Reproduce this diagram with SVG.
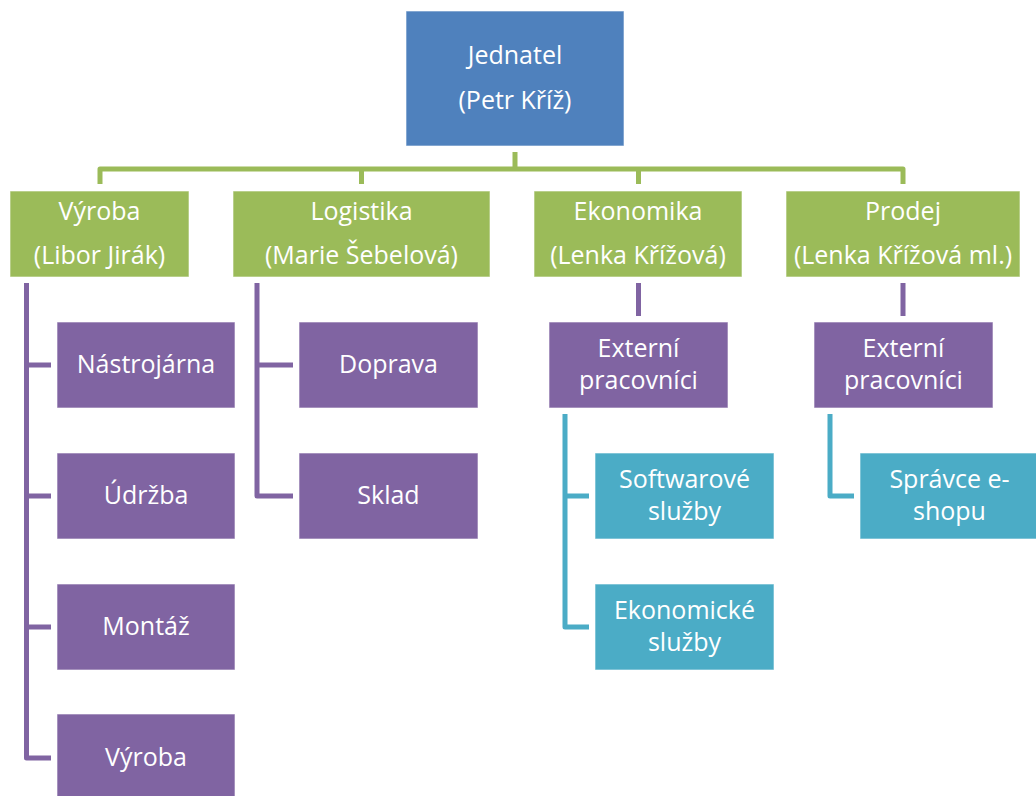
<svg xmlns="http://www.w3.org/2000/svg" width="1036" height="796" viewBox="0 0 1036 796">
  <style>
    .box { stroke: #ffffff; stroke-opacity: 0.6; stroke-width: 1; }
    .blue { fill: #4F81BD; }
    .green { fill: #9BBB59; }
    .purple { fill: #8064A2; }
    .teal { fill: #4BACC6; }
    .lbl { font-family: "Open Sans", "Noto Sans", sans-serif; font-size: 25px; fill: #ffffff; text-anchor: middle; }
    .wire { fill: none; stroke-width: 5; stroke-linejoin: round; }
    .w-green { stroke: #9BBB59; }
    .w-purple { stroke: #8064A2; }
    .w-teal { stroke: #4BACC6; }
  </style>
  <rect width="1036" height="796" fill="#ffffff"/>

  <!-- connectors -->
  <g id="connectors">
    <path class="wire w-green" d="M515,152 V169 M100,184 V169 H903 V184 M361.5,169 V184 M638.5,169 V184"/>
    <path class="wire w-purple" d="M26.5,283 V758 H51 M26.5,365 H51 M26.5,496 H51 M26.5,627 H51"/>
    <path class="wire w-purple" d="M257,283 V496 H293 M257,365 H293"/>
    <path class="wire w-purple" d="M638.5,283 V316 M903,283 V316"/>
    <path class="wire w-teal" d="M565,414 V627 H589 M565,496 H589"/>
    <path class="wire w-teal" d="M830,414 V496 H854"/>
  </g>

  <!-- top level -->
  <g id="jednatel">
    <rect class="box blue" x="406" y="11" width="218" height="135"/>
    <text class="lbl" x="515" y="64">Jednatel</text>
    <text class="lbl" x="515" y="109">(Petr Kříž)</text>
  </g>

  <!-- departments -->
  <g id="vyroba">
    <rect class="box green" x="10" y="191" width="179" height="86"/>
    <text class="lbl" x="99.5" y="220">Výroba</text>
    <text class="lbl" x="99.5" y="264">(Libor Jirák)</text>
  </g>
  <g id="logistika">
    <rect class="box green" x="233" y="191" width="257" height="86"/>
    <text class="lbl" x="361.5" y="220">Logistika</text>
    <text class="lbl" x="361.5" y="264">(Marie Šebelová)</text>
  </g>
  <g id="ekonomika">
    <rect class="box green" x="534" y="191" width="208" height="86"/>
    <text class="lbl" x="638" y="220">Ekonomika</text>
    <text class="lbl" x="638" y="264">(Lenka Křížová)</text>
  </g>
  <g id="prodej">
    <rect class="box green" x="786" y="191" width="234" height="86"/>
    <text class="lbl" x="903" y="220">Prodej</text>
    <text class="lbl" x="903" y="264">(Lenka Křížová ml.)</text>
  </g>

  <!-- Výroba units -->
  <g id="nastrojarna">
    <rect class="box purple" x="57" y="322" width="178" height="86"/>
    <text class="lbl" x="146" y="373">Nástrojárna</text>
  </g>
  <g id="udrzba">
    <rect class="box purple" x="57" y="453" width="178" height="86"/>
    <text class="lbl" x="146" y="504">Údržba</text>
  </g>
  <g id="montaz">
    <rect class="box purple" x="57" y="584" width="178" height="86"/>
    <text class="lbl" x="146" y="635">Montáž</text>
  </g>
  <g id="vyroba-unit">
    <rect class="box purple" x="57" y="714" width="178" height="86"/>
    <text class="lbl" x="146" y="766">Výroba</text>
  </g>

  <!-- Logistika units -->
  <g id="doprava">
    <rect class="box purple" x="299" y="322" width="179" height="86"/>
    <text class="lbl" x="388.5" y="373">Doprava</text>
  </g>
  <g id="sklad">
    <rect class="box purple" x="299" y="453" width="179" height="86"/>
    <text class="lbl" x="388.5" y="504">Sklad</text>
  </g>

  <!-- external staff -->
  <g id="externi-ekonomika">
    <rect class="box purple" x="549" y="322" width="179" height="86"/>
    <text class="lbl" x="638.5" y="357">Externí</text>
    <text class="lbl" x="638.5" y="389">pracovníci</text>
  </g>
  <g id="externi-prodej">
    <rect class="box purple" x="814" y="322" width="179" height="86"/>
    <text class="lbl" x="903.5" y="357">Externí</text>
    <text class="lbl" x="903.5" y="389">pracovníci</text>
  </g>

  <g id="softwarove-sluzby">
    <rect class="box teal" x="595" y="453" width="179" height="86"/>
    <text class="lbl" x="684.5" y="488">Softwarové</text>
    <text class="lbl" x="684.5" y="520">služby</text>
  </g>
  <g id="ekonomicke-sluzby">
    <rect class="box teal" x="595" y="584" width="179" height="86"/>
    <text class="lbl" x="684.5" y="619">Ekonomické</text>
    <text class="lbl" x="684.5" y="651">služby</text>
  </g>
  <g id="spravce-eshopu">
    <rect class="box teal" x="860" y="453" width="179" height="86"/>
    <text class="lbl" x="949.5" y="488">Správce e-</text>
    <text class="lbl" x="949.5" y="520">shopu</text>
  </g>
</svg>
